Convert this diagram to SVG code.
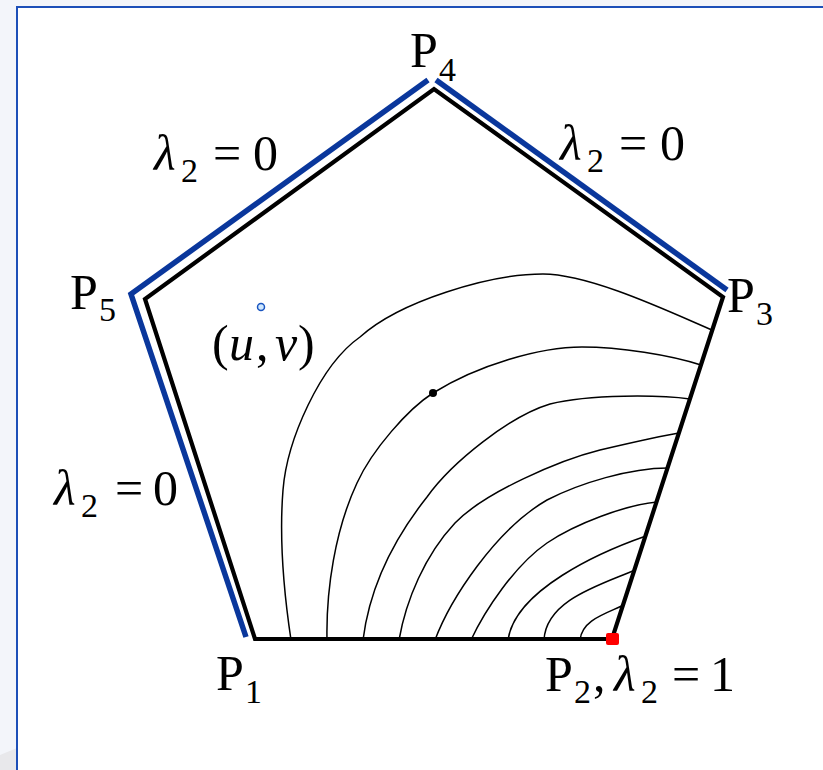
<svg xmlns="http://www.w3.org/2000/svg" width="823" height="770" viewBox="0 0 823 770">
<style>
text{font-family:"Liberation Serif","Times New Roman",serif;font-size:50px;fill:#000}
.sub{font-size:34px}
.it{font-style:italic}
.contour{fill:none;stroke:#000;stroke-width:1.5}
.edge{fill:none;stroke:#000;stroke-width:4.2;stroke-linejoin:miter}
.blue{fill:none;stroke:#0a379c;stroke-width:5.5;stroke-linejoin:miter}
</style>
<rect width="823" height="770" fill="#f3f5fa"/>
<polygon points="0,755 17,748 17,770 0,770" fill="#e8e8eb"/>
<rect x="17" y="7" width="830" height="790" fill="#fff" stroke="#1d4fb8" stroke-width="2"/>
<g id="contours">
<path class="contour" d="M291,640 C285,600 279,540 283,490 C287,440 320,365 360,337 C400,301 490,274 543,274 C590,274 670,312 712,330"/>
<path class="contour" d="M327,640 C326,590 335,530 357,483 C372,450 408,409 433,393 C478,365 540,347 582,347 C620,347 670,355 701,365"/>
<path class="contour" d="M363,640 C368,600 385,550 427,497 C452,462 510,416 550,404 C590,394 660,395 690,399"/>
<path class="contour" d="M399,640 C406,600 425,555 455,523 C485,492 560,460 600,450 C630,443 660,436 679,433"/>
<path class="contour" d="M435,640 C450,600 495,530 547,500 C580,483 630,468 668,468"/>
<path class="contour" d="M471,640 C485,610 515,565 547,543 C575,524 625,505 657,502"/>
<path class="contour" d="M508,640 C515,590 600,552 646,536"/>
<path class="contour" d="M544,640 C546,600 600,585 635,570"/>
<path class="contour" d="M580,640 C582,620 605,614 624,605"/>
</g>
<g id="pentagon">
<polygon class="edge" points="255,639 612,639 723,297 434,89 145,299"/>
</g>
<g id="boundary">
<polyline class="blue" points="246,637 131,294 428,80"/>
<line class="blue" x1="436" y1="80" x2="727" y2="290"/>
</g>
<g id="P2-marker"><rect x="606" y="633" width="13" height="12" rx="2" fill="#ff0000"/></g>
<g id="point"><circle cx="433" cy="393" r="4" fill="#000"/></g>
<g id="uv-point"><circle cx="261" cy="307" r="3.5" fill="#cfe8ff" stroke="#1a55c0" stroke-width="1.5"/></g>
<g id="labels">
<g id="P4"><text><tspan x="410" y="67">P</tspan><tspan class="sub" x="439" y="81">4</tspan></text></g>
<g id="P5"><text><tspan x="70" y="309">P</tspan><tspan class="sub" x="99" y="321">5</tspan></text></g>
<g id="P3"><text><tspan x="727" y="312">P</tspan><tspan class="sub" x="756" y="325">3</tspan></text></g>
<g id="P1"><text><tspan x="216" y="690">P</tspan><tspan class="sub" x="245" y="703">1</tspan></text></g>
<g id="P2"><text><tspan x="545" y="691">P</tspan><tspan class="sub" x="574" y="703">2</tspan><tspan x="593" y="691">,</tspan><tspan class="it" x="614" y="691">λ</tspan><tspan class="sub" x="641" y="703">2</tspan><tspan x="672" y="691">=</tspan><tspan x="710" y="691">1</tspan></text></g>
<g id="lam-top-left"><text><tspan class="it" x="154" y="170">λ</tspan><tspan class="sub" x="181" y="182">2</tspan><tspan x="213" y="170">=</tspan><tspan x="253" y="170">0</tspan></text></g>
<g id="lam-top-right"><text><tspan class="it" x="560" y="160">λ</tspan><tspan class="sub" x="587" y="172">2</tspan><tspan x="619" y="160">=</tspan><tspan x="660" y="160">0</tspan></text></g>
<g id="lam-left"><text><tspan class="it" x="54" y="505">λ</tspan><tspan class="sub" x="81" y="517">2</tspan><tspan x="115" y="505">=</tspan><tspan x="153" y="505">0</tspan></text></g>
<g id="uv"><text><tspan x="212" y="360">(</tspan><tspan class="it" x="229" y="360">u</tspan><tspan x="256" y="360">,</tspan><tspan class="it" x="275" y="360">v</tspan><tspan x="298" y="360">)</tspan></text></g>
</g>
</svg>
